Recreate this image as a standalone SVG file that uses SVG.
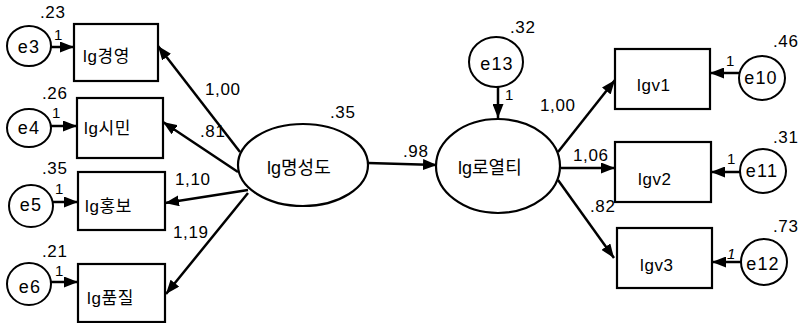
<svg xmlns="http://www.w3.org/2000/svg" width="801" height="323" viewBox="0 0 801 323">
<defs>
<marker id="ah" markerUnits="userSpaceOnUse" markerWidth="15" markerHeight="11" refX="14" refY="5.5" orient="auto">
<path d="M0,0 L14,5.5 L0,11 z" fill="#000"/>
</marker>
<style>
.box{fill:#fff;stroke:#000;stroke-width:2.2}
.lat{fill:#fff;stroke:#000;stroke-width:2.2}
.err{fill:#fff;stroke:#000;stroke-width:2}
.t{font-family:"Liberation Sans","Noto Sans CJK KR",sans-serif;font-size:17px;fill:#000;letter-spacing:0.6px}
.tl{font-family:"Liberation Sans","Noto Sans CJK KR",sans-serif;font-size:18px;fill:#000}
.e{font-family:"Liberation Sans",sans-serif;font-size:18px;fill:#000;text-anchor:middle;letter-spacing:1.2px}
.n{font-family:"Liberation Sans",sans-serif;font-size:17px;fill:#000;letter-spacing:0.6px}
.s{font-family:"Liberation Sans",sans-serif;font-size:15px;fill:#000}
.c{stroke:#000;stroke-width:2.5;fill:none;marker-end:url(#ah)}
</style>
</defs>
<rect width="801" height="323" fill="#fff"/>

<g id="connectors">
<line class="c" x1="51" y1="47" x2="74" y2="47"/>
<line class="c" x1="51" y1="126" x2="77" y2="126"/>
<line class="c" x1="53" y1="202" x2="78" y2="202"/>
<line class="c" x1="51" y1="282" x2="78" y2="282"/>
<line class="c" x1="240" y1="152" x2="158" y2="46"/>
<line class="c" x1="238" y1="172" x2="163" y2="122"/>
<line class="c" x1="248" y1="190" x2="165" y2="203"/>
<line class="c" x1="248" y1="193" x2="166" y2="294"/>
<line class="c" x1="368" y1="163" x2="437" y2="165"/>
<line class="c" x1="498" y1="87" x2="498" y2="118"/>
<line class="c" x1="558" y1="152" x2="615" y2="80"/>
<line class="c" x1="561" y1="168" x2="615" y2="168"/>
<line class="c" x1="558" y1="180" x2="614" y2="258"/>
<line class="c" x1="739" y1="73" x2="710" y2="73"/>
<line class="c" x1="740" y1="172" x2="711" y2="172"/>
<line class="c" x1="741" y1="262" x2="712" y2="262"/>
</g>

<g id="lg경영"><rect class="box" x="74" y="24" width="84" height="57"/><text class="t" x="83" y="62">lg경영</text></g>
<g id="lg시민"><rect class="box" x="77" y="98" width="86" height="60"/><text class="t" x="84" y="134">lg시민</text></g>
<g id="lg홍보"><rect class="box" x="78" y="172" width="87" height="58"/><text class="t" x="85" y="212">lg홍보</text></g>
<g id="lg품질"><rect class="box" x="78" y="264" width="87" height="58"/><text class="t" x="87" y="304">lg품질</text></g>

<g id="e3"><ellipse class="err" cx="29" cy="46" rx="22" ry="20"/><text class="e" x="29" y="53">e3</text></g>
<g id="e4"><ellipse class="err" cx="29" cy="128" rx="22" ry="19"/><text class="e" x="29" y="134">e4</text></g>
<g id="e5"><ellipse class="err" cx="31" cy="206" rx="22" ry="21"/><text class="e" x="31" y="211">e5</text></g>
<g id="e6"><ellipse class="err" cx="29" cy="284" rx="22" ry="21"/><text class="e" x="30" y="293">e6</text></g>

<g id="lg명성도"><ellipse class="lat" cx="303" cy="165" rx="65" ry="41"/><text class="tl" x="267" y="174">lg명성도</text></g>
<g id="lg로열티"><ellipse class="lat" cx="498" cy="166" rx="62" ry="47"/><text class="tl" x="458" y="174">lg로열티</text></g>
<g id="e13"><ellipse class="err" cx="496" cy="62" rx="27" ry="25"/><text class="e" x="497" y="70">e13</text></g>

<g id="lgv1"><rect class="box" x="615" y="49" width="95" height="60"/><text class="t" x="637" y="91">lgv1</text></g>
<g id="lgv2"><rect class="box" x="615" y="142" width="96" height="60"/><text class="t" x="638" y="185">lgv2</text></g>
<g id="lgv3"><rect class="box" x="617" y="228" width="95" height="60"/><text class="t" x="640" y="271">lgv3</text></g>

<g id="e10"><ellipse class="err" cx="762" cy="78" rx="23" ry="22"/><text class="e" x="761" y="84">e10</text></g>
<g id="e11"><ellipse class="err" cx="763" cy="171" rx="23" ry="22"/><text class="e" x="762" y="177">e11</text></g>
<g id="e12"><ellipse class="err" cx="764" cy="262" rx="23" ry="23"/><text class="e" x="763" y="270">e12</text></g>

<g id="labels">
<text class="n" x="40" y="18">.23</text>
<text class="s" x="54" y="40">1</text>
<text class="n" x="42" y="99">.26</text>
<text class="s" x="52" y="118">1</text>
<text class="n" x="42" y="174">.35</text>
<text class="s" x="55" y="194">1</text>
<text class="n" x="42" y="257">.21</text>
<text class="s" x="55" y="276">1</text>
<text class="n" x="205" y="95">1,00</text>
<text class="n" x="200" y="137">.81</text>
<text class="n" x="175" y="185">1,10</text>
<text class="n" x="173" y="238">1,19</text>
<text class="n" x="330" y="118">.35</text>
<text class="n" x="403" y="157">.98</text>
<text class="n" x="510" y="33">.32</text>
<text class="s" x="505" y="100">1</text>
<text class="n" x="540" y="111">1,00</text>
<text class="n" x="573" y="161">1,06</text>
<text class="n" x="590" y="212">.82</text>
<text class="n" x="773" y="47">.46</text>
<text class="s" x="726" y="66">1</text>
<text class="n" x="773" y="143">.31</text>
<text class="s" x="727" y="164">1</text>
<text class="n" x="773" y="232">.73</text>
<text class="s" x="727" y="259" font-style="italic">1</text>
</g>
</svg>
